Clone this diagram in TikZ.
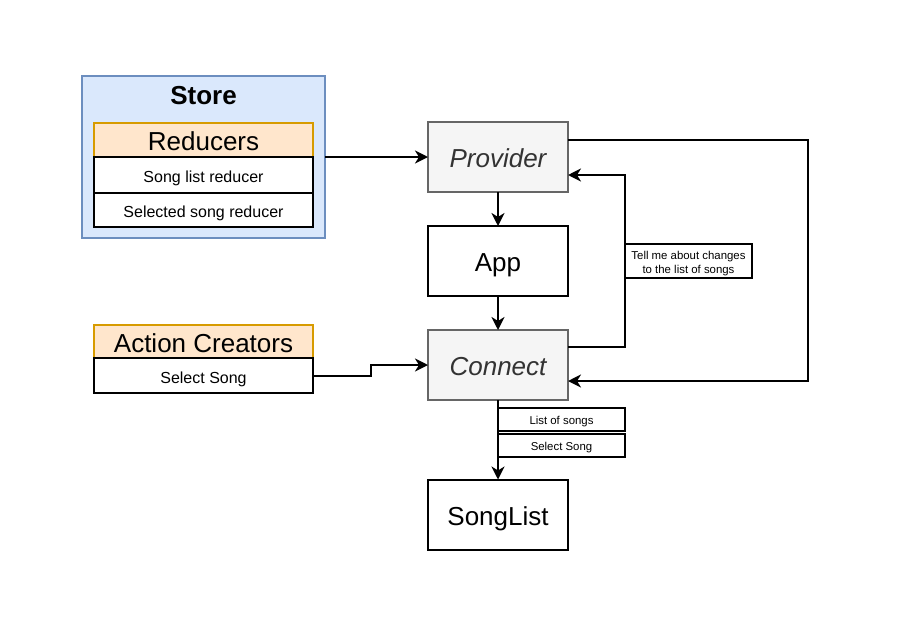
\documentclass[tikz,border=0pt]{standalone}
\usepackage{fontspec}
\setmainfont{Liberation Sans}
\usetikzlibrary{arrows.meta}
\definecolor{storefill}{HTML}{DAE8FC}
\definecolor{storedraw}{HTML}{6C8EBF}
\definecolor{hdrfill}{HTML}{FFE6CC}
\definecolor{hdrdraw}{HTML}{D79B00}
\definecolor{grayfill}{HTML}{F5F5F5}
\definecolor{graydraw}{HTML}{666666}
\definecolor{graytext}{HTML}{333333}
\newcommand{\fbig}{\fontsize{26}{31}\selectfont}
\newcommand{\fmid}{\fontsize{16}{19}\selectfont}
\newcommand{\fsml}{\fontsize{11.4}{13.7}\selectfont}
\tikzset{
  base/.style={line width=2pt, inner sep=0pt, outer sep=0pt, align=center},
  ctrbig/.style={text height=26.4pt, text depth=5.2pt},
  ctrmid/.style={text height=18.4pt, text depth=3.2pt},
  ctrsml/.style={text height=12.3pt, text depth=2.3pt},
  storebox/.style={base, draw=storedraw, fill=storefill},
  hdr/.style={base, ctrbig, draw=hdrdraw, fill=hdrfill, font=\fbig, minimum width=219pt},
  item/.style={base, ctrmid, draw=black, fill=white, font=\fmid, minimum width=219pt},
  graybox/.style={base, ctrbig, draw=graydraw, fill=grayfill, text=graytext, font=\fbig\itshape, minimum width=140pt, minimum height=70pt},
  plainbox/.style={base, ctrbig, draw=black, fill=white, font=\fbig, minimum width=140pt, minimum height=70pt},
  lbl/.style={base, draw=black, fill=white, font=\fsml, minimum width=127pt},
  conn/.style={line width=2pt, -{Stealth[length=13pt,width=13pt,inset=4pt]}},
}
\begin{document}
\begin{tikzpicture}[x=1pt,y=-1pt]
\useasboundingbox (0,0) rectangle (910,624);
% Store
\node[storebox, minimum width=243pt, minimum height=162pt] (store) at (203.5,157) {};
\node[font=\fbig\bfseries, inner sep=0pt, ctrbig] (storet) at (203.5,93.5) {Store};
\node[hdr, minimum height=34pt] (reducers) at (203.5,140) {Reducers};
\node[item, minimum height=36pt] (r1) at (203.5,175) {Song list reducer};
\node[item, minimum height=34pt] (r2) at (203.5,210) {Selected song reducer};
% Action creators
\node[hdr, minimum height=33pt] (ac) at (203.5,341.5) {Action Creators};
\node[item, minimum height=35pt] (sel) at (203.5,375.5) {Select Song};
% main column
\node[graybox] (provider) at (498,157) {Provider};
\node[plainbox] (app) at (498,261) {App};
\node[graybox] (connect) at (498,365) {Connect};
\node[plainbox] (songlist) at (498,514.5) {SongList};
% labels
\node[lbl, minimum height=34pt, text height=27.2pt, text depth=2.3pt] (tell) at (688.5,261) {Tell me about changes\\to the list of songs};
\node[lbl, ctrsml, minimum height=23pt] (los) at (561.5,419.5) {List of songs};
\node[lbl, ctrsml, minimum height=23pt] (ss) at (561.5,445.5) {Select Song};
% connectors
\draw[conn] (store.east) -- (provider.west);
\draw[conn] (provider.south) -- (app.north);
\draw[conn] (app.south) -- (connect.north);
\draw[conn] (sel.east) -- ++(58,0) |- (connect.west);
\draw[conn] ([yshift=18pt]connect.east) -| (tell.west) |- ([yshift=-18pt]provider.east);
\draw[conn] ([yshift=17pt]provider.east) -- (808,140) |- ([yshift=-16pt]connect.east);
\draw[conn] (connect.south) -- (songlist.north);
\end{tikzpicture}
\end{document}
